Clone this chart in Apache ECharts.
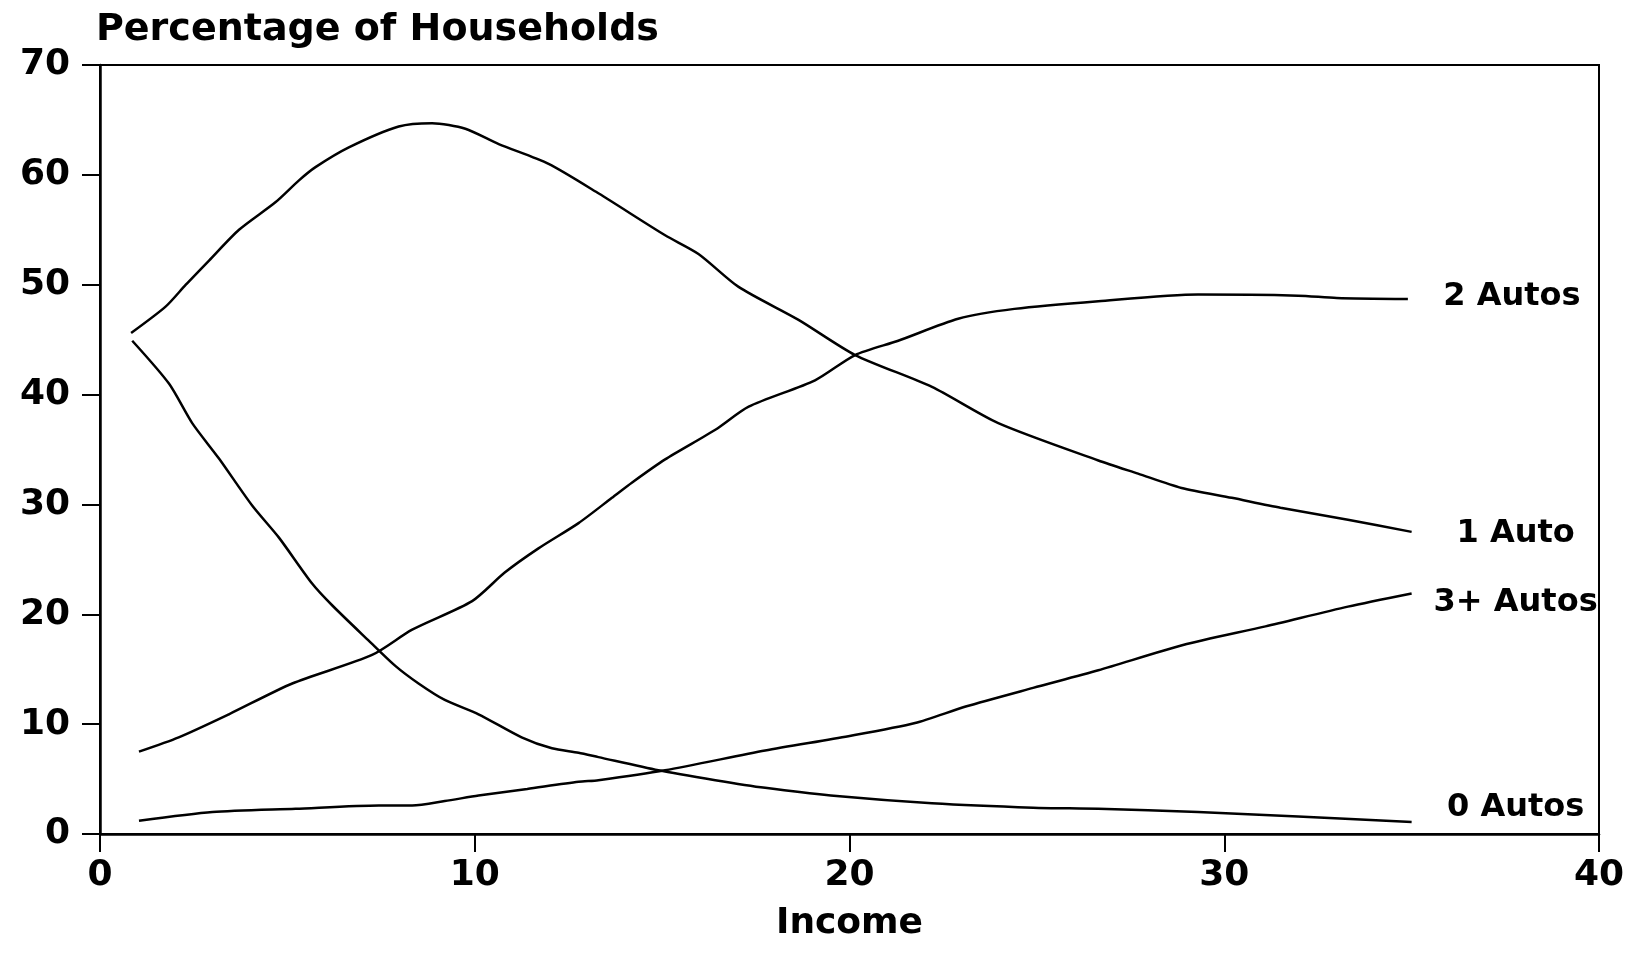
<!DOCTYPE html>
<html>
<head>
<meta charset="utf-8">
<script src="https://cdn.jsdelivr.net/npm/echarts@6/dist/echarts.min.js"></script>
<style>
  html, body { margin: 0; padding: 0; background: #fff; }
  #chart { width: 1638px; height: 968px; }
</style>
</head>
<body>
<div id="chart"></div>
<script>
// ---- data ----
var titleText = 'Percentage of Households';
var xAxisName = 'Income';
var xTicks = { min: 0, max: 40, interval: 10 };
var yTicks = { min: 0, max: 70, interval: 10 };

var seriesNames = ['2 Autos', '1 Auto', '3+ Autos', '0 Autos'];

var twoAutos = [[1.04,7.5],[2.1,8.8],[3.44,10.9],[5.13,13.7],[7.26,16.3],[8.33,18.6],[9.93,21.2],[10.8,23.8],[11.7,26.0],[12.77,28.3],[13.66,30.6],[14.2,32.0],[15.08,34.1],[16.42,36.8],[17.31,38.9],[19.08,41.3],[20.15,43.6],[21.3,44.9],[22.9,46.9],[24.4,47.8],[26.64,48.5],[29.3,49.1],[31.97,49.0],[33.0,48.8],[34.9,48.7]];

var oneAuto = [[0.83,45.6],[1.75,48.0],[2.29,50.0],[2.91,52.2],[3.71,55.0],[4.68,57.5],[5.31,59.5],[5.75,60.7],[6.64,62.5],[7.97,64.4],[8.86,64.7],[9.75,64.2],[10.64,62.8],[11.97,61.0],[13.31,58.3],[15.08,54.5],[15.97,52.8],[17.04,49.8],[18.64,46.8],[20.15,43.6],[22.2,40.7],[23.97,37.4],[26.64,34.0],[27.7,32.8],[28.86,31.5],[30.2,30.6],[31.5,29.7],[33.3,28.6],[35.0,27.5]];

var threePlusAutos = [[1.04,1.2],[3.0,2.0],[5.22,2.3],[7.44,2.6],[8.33,2.6],[9.2,3.0],[10.1,3.5],[11.4,4.1],[12.77,4.75],[13.3,4.9],[15.08,5.8],[17.75,7.6],[19.97,8.9],[21.75,10.1],[23.1,11.6],[24.9,13.3],[26.64,14.9],[28.9,17.2],[31.1,18.9],[33.3,20.7],[35.0,21.9]];

var zeroAutos = [[0.86,44.9],[1.84,41.0],[2.46,37.4],[3.17,34.2],[4.06,29.9],[4.77,27.0],[5.66,22.8],[6.2,20.8],[7.17,17.6],[7.88,15.3],[8.5,13.7],[9.2,12.2],[10.1,10.9],[11.25,8.8],[12.06,7.8],[12.77,7.4],[13.3,7.0],[14.9,5.8],[16.42,4.9],[17.75,4.2],[19.5,3.5],[22.2,2.8],[24.9,2.4],[26.64,2.3],[29.3,2.0],[31.97,1.6],[35.0,1.1]];

var seriesData = [twoAutos, oneAuto, threePlusAutos, zeroAutos];

// ---- chart ----
var FONT = '"DejaVu Sans", "Liberation Sans", Arial, sans-serif';
var labelOffsets = [[0, -2], [0, 2], [0, 9], [0, -14]];

var chart = echarts.init(document.getElementById('chart'), null, { renderer: 'canvas' });

var series = seriesNames.map(function (name, i) {
  return {
    name: name,
    type: 'line',
    data: seriesData[i],
    showSymbol: false,
    symbol: 'none',
    smooth: 0.25,
    silent: true,
    lineStyle: { color: '#000', width: 2.5 },
    endLabel: {
      show: true,
      formatter: name,
      color: '#000',
      fontFamily: FONT,
      fontWeight: 'bold',
      fontSize: 32,
      distance: 104,
      align: 'center',
      verticalAlign: 'middle',
      offset: labelOffsets[i]
    }
  };
});

chart.setOption({
  animation: false,
  backgroundColor: '#fff',
  title: {
    text: titleText,
    left: 91,
    top: 6,
    textStyle: { fontFamily: FONT, fontWeight: 'bold', fontSize: 38, color: '#000' }
  },
  grid: {
    left: 100, right: 39, top: 65, bottom: 134,
    show: true, borderColor: '#000', borderWidth: 2, containLabel: false
  },
  xAxis: {
    type: 'value',
    min: xTicks.min, max: xTicks.max, interval: xTicks.interval,
    name: xAxisName,
    nameLocation: 'middle',
    nameGap: 72,
    nameTextStyle: { fontFamily: FONT, fontWeight: 'bold', fontSize: 36, color: '#000' },
    axisLine: { show: true, onZero: false, lineStyle: { color: '#000', width: 2.5 } },
    axisTick: { show: true, inside: false, length: 18, lineStyle: { color: '#000', width: 2 } },
    axisLabel: { margin: 24, fontFamily: FONT, fontWeight: 'bold', fontSize: 36, color: '#000' },
    splitLine: { show: false }
  },
  yAxis: {
    type: 'value',
    min: yTicks.min, max: yTicks.max, interval: yTicks.interval,
    axisLine: { show: true, onZero: false, lineStyle: { color: '#000', width: 2.5 } },
    axisTick: { show: true, inside: false, length: 18, lineStyle: { color: '#000', width: 2 } },
    axisLabel: { margin: 30, fontFamily: FONT, fontWeight: 'bold', fontSize: 36, color: '#000' },
    splitLine: { show: false }
  },
  series: series
});
</script>
</body>
</html>
